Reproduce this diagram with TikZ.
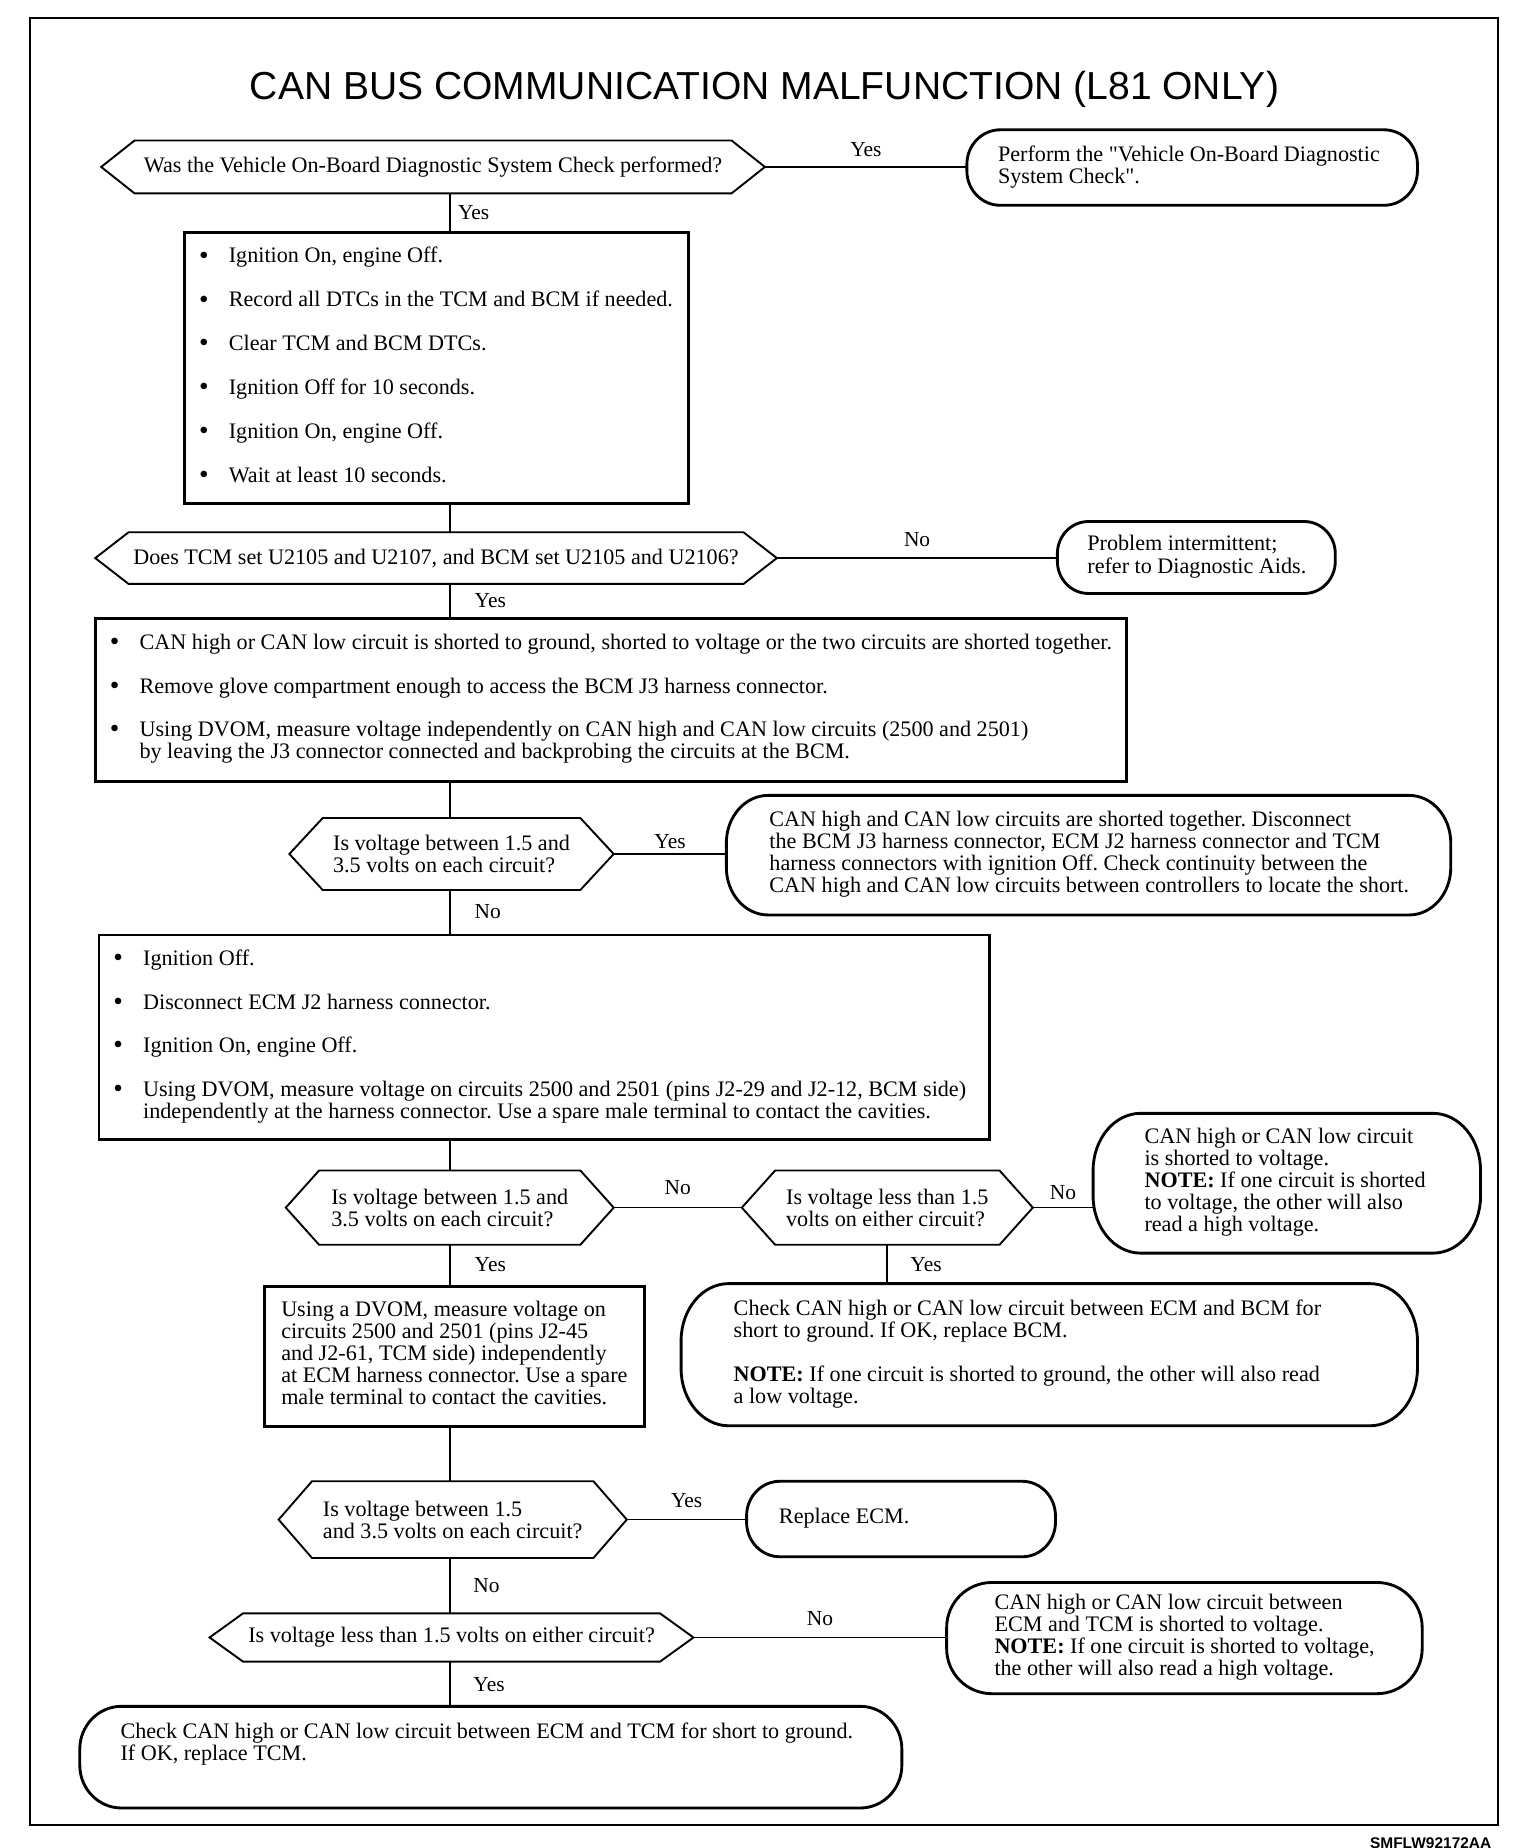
\documentclass[tikz,border=0pt]{standalone}
\usepackage{fontspec}
\setmainfont{Liberation Serif}[Ligatures=TeXOff]
\newfontfamily\titlefont{Liberation Sans}
\frenchspacing
\newcommand\lbox[3]{\makebox[#1pt][l]{\hspace*{#2pt}\begin{tabular}{@{}l@{}}#3\end{tabular}}}
\newcommand\bul{\makebox[25pt][l]{\raisebox{-1pt}{\fontsize{23}{18}\selectfont\textbullet}}}
\newcommand\ind{\hspace*{25pt}}
\newcommand\hexdraw[2][28pt]{\draw[hexline] (#2.west) -- ([xshift=#1]#2.north west) -- ([xshift=-#1]#2.north east) -- (#2.east) -- ([xshift=-#1]#2.south east) -- ([xshift=#1]#2.south west) -- cycle;}
\newcommand\termdraw[3]{\draw[termline] ([xshift=#2pt]#1.north west) -- ([xshift=-#2pt]#1.north east)
   arc[start angle=90,end angle=0,x radius=#2pt,y radius=#3pt]
   -- ([yshift=#3pt]#1.south east)
   arc[start angle=0,end angle=-90,x radius=#2pt,y radius=#3pt]
   -- ([xshift=#2pt]#1.south west)
   arc[start angle=270,end angle=180,x radius=#2pt,y radius=#3pt]
   -- ([yshift=-#3pt]#1.north west)
   arc[start angle=180,end angle=90,x radius=#2pt,y radius=#3pt] -- cycle;}
\begin{document}
\begin{tikzpicture}[x=1pt,y=-1pt,
  base/.style={font=\fontsize{18.6}{18.5}\selectfont},
  hexfont/.style={font=\fontsize{18.6}{18.5}\selectfont},
  shapenode/.style={base, draw=none, anchor=north west, inner sep=0pt},
  hexnode/.style={hexfont, draw=none, anchor=north west, inner sep=0pt, align=left},
  hexline/.style={line width=1.6pt, line join=miter},
  boxline/.style={line width=2.4pt},
  termline/.style={line width=2.4pt},
  conn/.style={line width=1.3pt},
  lbl/.style={font=\fontsize{18}{18.5}\selectfont, inner sep=0pt},
  hl/.style={lbl, anchor=base, yshift=#1},
  vl/.style={lbl, anchor=base west, yshift=-6pt, xshift=#1}
]
\useasboundingbox (0,0) rectangle (1290,1552);
\draw[line width=1.6pt] (25,15) rectangle (1258,1533);

\node[font=\titlefont\fontsize{32.8}{34}\selectfont] (title) at (642,75) {CAN BUS COMMUNICATION MALFUNCTION (L81 ONLY)};

\coordinate (sp) at (378,0);
\coordinate (sp2) at (745,0);

% decisions
\node[hexnode, minimum width=557pt, minimum height=44pt] (d1) at (85,118) {Was the Vehicle On-Board Diagnostic System Check performed?};
\node[hexnode, minimum width=572pt, minimum height=43pt] (d2) at (80,447) {Does TCM set U2105 and U2107, and BCM set U2105 and U2106?};
\node[hexnode, minimum width=272pt, minimum height=60pt] (d3) at (243,687) {Is voltage between 1.5 and\\3.5 volts on each circuit?};
\node[hexnode, minimum width=275pt, minimum height=62pt] (d4) at (240,983) {Is voltage between 1.5 and\\3.5 volts on each circuit?};
\node[hexnode, minimum width=244pt, minimum height=62pt] (d5) at (623,983) {Is voltage less than 1.5\\volts on either circuit?};
\node[hexnode, minimum width=292pt, minimum height=64pt] (d6) at (234,1244) {Is voltage between 1.5\\and 3.5 volts on each circuit?};
\node[hexnode, minimum width=406pt, minimum height=40pt] (d7) at (176,1355) {Is voltage less than 1.5 volts on either circuit?};
\hexdraw{d1}\hexdraw{d2}\hexdraw{d3}\hexdraw{d4}\hexdraw{d5}\hexdraw{d6}\hexdraw{d7}

% boxes
\node[shapenode, draw, boxline, minimum width=423pt, minimum height=228pt] (b1) at (154,194)
 {\lbox{423}{12}{\bul Ignition On, engine Off.\\[18.3pt]
  \bul Record all DTCs in the TCM and BCM if needed.\\[18.3pt]
  \bul Clear TCM and BCM DTCs.\\[18.3pt]
  \bul Ignition Off for 10 seconds.\\[18.3pt]
  \bul Ignition On, engine Off.\\[18.3pt]
  \bul Wait at least 10 seconds.}};
\node[shapenode, draw, boxline, minimum width=866pt, minimum height=137pt] (b2) at (79,518)
 {\lbox{866}{12}{\bul CAN high or CAN low circuit is shorted to ground, shorted to voltage or the two circuits are shorted together.\\[18pt]
  \bul Remove glove compartment enough to access the BCM J3 harness connector.\\[18pt]
  \bul Using DVOM, measure voltage independently on CAN high and CAN low circuits (2500 and 2501)\\
  \ind by leaving the J3 connector connected and backprobing the circuits at the BCM.}};
\node[shapenode, draw, boxline, minimum width=748pt, minimum height=172pt] (b3) at (82,784)
 {\lbox{748}{12}{\bul Ignition Off.\\[18pt]
  \bul Disconnect ECM J2 harness connector.\\[18pt]
  \bul Ignition On, engine Off.\\[18pt]
  \bul Using DVOM, measure voltage on circuits 2500 and 2501 (pins J2-29 and J2-12, BCM side)\\
  \ind independently at the harness connector. Use a spare male terminal to contact the cavities.}};
\node[shapenode, draw, boxline, minimum width=319pt, minimum height=118pt] (b4) at (221,1079)
 {\lbox{319}{14}{Using a DVOM, measure voltage on\\
  circuits 2500 and 2501 (pins J2-45\\
  and J2-61, TCM side) independently\\
  at ECM harness connector. Use a spare\\
  male terminal to contact the cavities.}};

% terminators
\node[shapenode, minimum width=378pt, minimum height=63pt] (t1) at (812,109)
 {\lbox{378}{26}{Perform the "Vehicle On-Board Diagnostic\\System Check".}};
\node[shapenode, minimum width=233pt, minimum height=60pt] (t2) at (888,438)
 {\lbox{233}{25}{Problem intermittent;\\refer to Diagnostic Aids.}};
\node[shapenode, minimum width=608pt, minimum height=100pt] (t3) at (610,668)
 {\lbox{608}{36}{CAN high and CAN low circuits are shorted together. Disconnect\\
  the BCM J3 harness connector, ECM J2 harness connector and TCM\\
  harness connectors with ignition Off. Check continuity between the\\
  CAN high and CAN low circuits between controllers to locate the short.}};
\node[shapenode, minimum width=325pt, minimum height=117pt] (t4) at (918,935)
 {\lbox{325}{43}{CAN high or CAN low circuit\\
  is shorted to voltage.\\
  \textbf{NOTE:} If one circuit is shorted\\
  to voltage, the other will also\\
  read a high voltage.}};
\node[shapenode, minimum width=618pt, minimum height=119pt] (t5) at (572,1078)
 {\lbox{618}{44}{Check CAN high or CAN low circuit between ECM and BCM for\\
  short to ground. If OK, replace BCM.\\[18pt]
  \textbf{NOTE:} If one circuit is shorted to ground, the other will also read\\
  a low voltage.}};
\node[shapenode, minimum width=259pt, minimum height=63pt] (t6) at (627,1244)
 {\lbox{259}{27}{Replace ECM.}};
\node[shapenode, minimum width=399pt, minimum height=93pt] (t7) at (795,1329)
 {\lbox{399}{40}{CAN high or CAN low circuit between\\
  ECM and TCM is shorted to voltage.\\
  \textbf{NOTE:} If one circuit is shorted to voltage,\\
  the other will also read a high voltage.}};
\node[shapenode, minimum width=690pt, minimum height=85pt] (t8) at (67,1433)
 {\lbox{690}{34}{Check CAN high or CAN low circuit between ECM and TCM for short to ground.\\
  If OK, replace TCM.\\[20pt]}};
\termdraw{t1}{28}{29}
\termdraw{t2}{26}{27}
\termdraw{t3}{35}{40}
\termdraw{t4}{40}{48}
\termdraw{t5}{40}{48}
\termdraw{t6}{28}{29}
\termdraw{t7}{38}{38}
\termdraw{t8}{35}{36}

% connectors
\draw[conn] (d1.east) -- node[hl=9pt]{Yes} (d1.east -| t1.west);
\draw[conn] (d1.south -| sp) -- node[vl=6pt]{Yes} (b1.north -| sp);
\draw[conn] (b1.south -| sp) -- (d2.north -| sp);
\draw[conn] (d2.east) -- node[hl=10pt]{No} (d2.east -| t2.west);
\draw[conn] (d2.south -| sp) -- node[vl=20pt]{Yes} (b2.north -| sp);
\draw[conn] (b2.south -| sp) -- (d3.north -| sp);
\draw[conn] (d3.east) -- node[hl=5pt]{Yes} (d3.east -| t3.west);
\draw[conn] (d3.south -| sp) -- node[vl=20pt]{No} (b3.north -| sp);
\draw[conn] (b3.south -| sp) -- (d4.north -| sp);
\draw[conn] (d4.east) -- node[hl=11pt]{No} (d5.west);
\draw[conn] (d5.east) -- node[hl=7pt]{No} (d5.east -| t4.west);
\draw[conn] (d5.south -| sp2) -- node[vl=19pt]{Yes} (t5.north -| sp2);
\draw[conn] (d4.south -| sp) -- node[vl=20pt]{Yes} (b4.north -| sp);
\draw[conn] (b4.south -| sp) -- (d6.north -| sp);
\draw[conn] (d6.east) -- node[hl=10pt]{Yes} (d6.east -| t6.west);
\draw[conn] (d6.south -| sp) -- node[vl=19pt]{No} (d7.north -| sp);
\draw[conn] (d7.east) -- node[hl=10pt]{No} (d7.east -| t7.west);
\draw[conn] (d7.south -| sp) -- node[vl=19pt]{Yes} (t8.north -| sp);

\node[font=\titlefont\bfseries\fontsize{13}{14}\selectfont, anchor=base east] (code) at (1256,1552) {SMFLW92172AA};
\end{tikzpicture}
\end{document}
